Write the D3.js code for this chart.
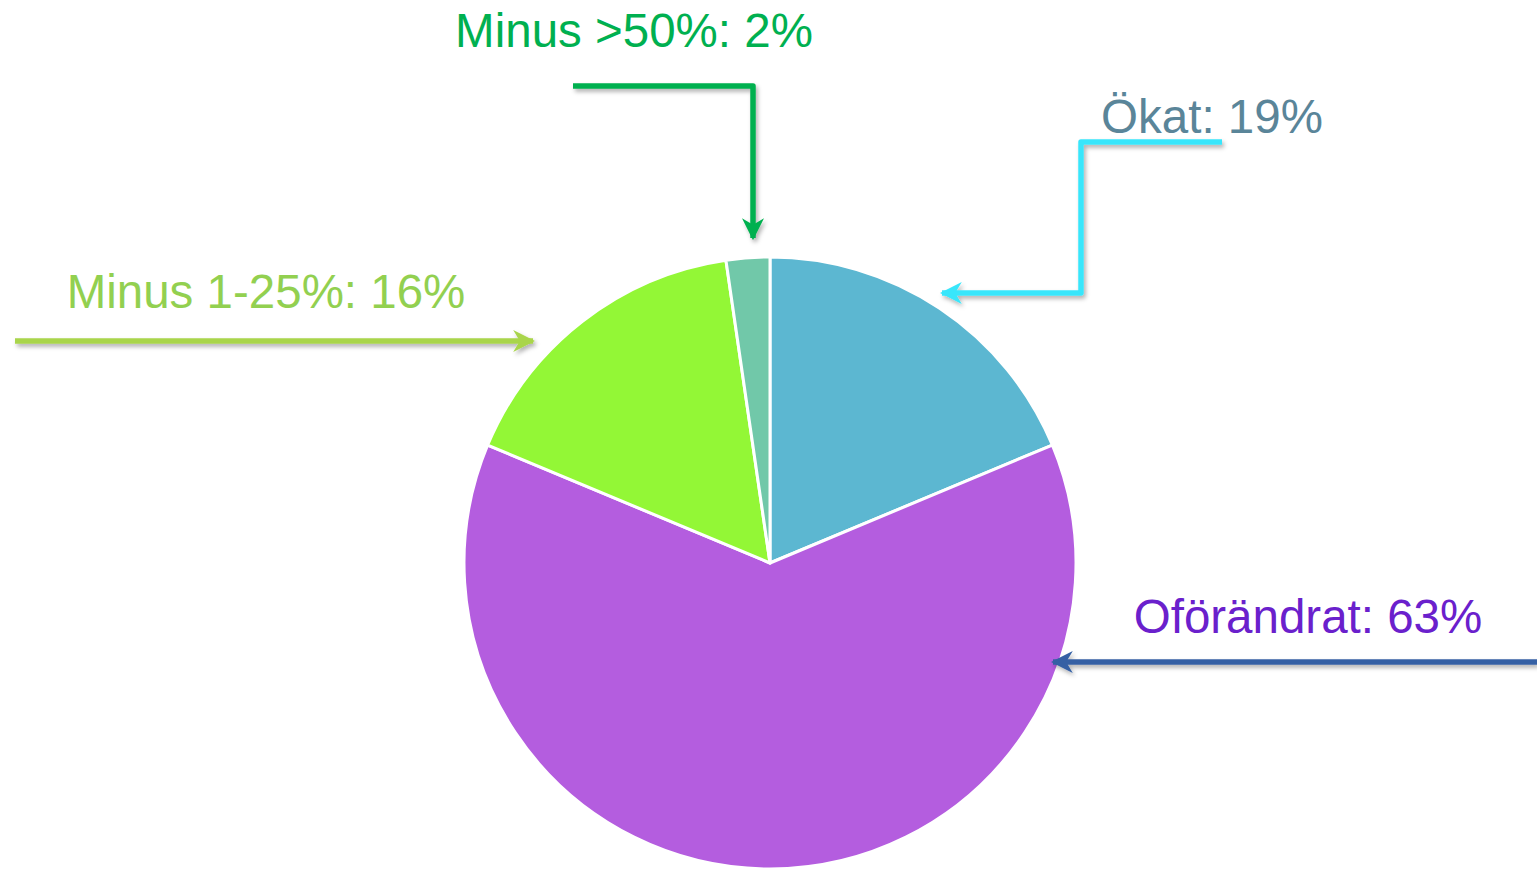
<!DOCTYPE html>
<html>
<head>
<meta charset="utf-8">
<script src="https://cdn.jsdelivr.net/npm/d3@7"></script>
<style>
  body { margin: 0; background: #fff; }
  text { font-family: "Liberation Sans", Arial, sans-serif; }
</style>
</head>
<body>
<div id="chart"></div>
<script>
// data (slice angles), labels rounded
var categories = ['Ökat', 'Oförändrat', 'Minus 1-25%', 'Minus >50%'];
var values = [18.7, 62.6, 16.4, 2.3];
var sliceColors = ['#5cb7d1', '#b45ddf', '#93f736', '#71c8a9'];
var labelColors = ['#5a8599', '#6a20cc', '#92d050', '#00b050'];
var arrowColors = ['#38e6fb', '#3560a4', '#a9d54b', '#00b050'];

var svgWidth = 1537;
var svgHeight = 869;
var cx = 770, cy = 563, radius = 306;

// label anchor + arrow polyline for each category (annotation layout)
var labelPos = [[1212, 133], [1308, 633], [266, 308], [634, 47]];
var arrowPaths = [
  [[1222, 142], [1081, 142], [1081, 293], [942, 293]],
  [[1537, 662], [1053, 662]],
  [[15, 341], [533, 341]],
  [[573, 86], [753, 86], [753, 238]]
];

var svg = d3.select('#chart')
  .append('svg')
  .attr('width', svgWidth)
  .attr('height', svgHeight);

var defs = svg.append('defs');
// userSpaceOnUse so flat (zero-height) lines still get a filter region
defs.append('filter')
  .attr('id', 'shadow')
  .attr('filterUnits', 'userSpaceOnUse')
  .attr('x', 0).attr('y', 0)
  .attr('width', svgWidth).attr('height', svgHeight)
  .append('feDropShadow')
  .attr('dx', 2).attr('dy', 3)
  .attr('stdDeviation', 2)
  .attr('flood-opacity', 0.3);

arrowColors.forEach(function(c, i) {
  defs.append('marker')
    .attr('id', 'head' + i)
    .attr('viewBox', '0 0 10 10')
    .attr('refX', 9).attr('refY', 5)
    .attr('markerWidth', 4).attr('markerHeight', 4)
    .attr('markerUnits', 'strokeWidth')
    .attr('orient', 'auto')
    .append('path')
    .attr('d', 'M0,0 L10,5 L0,10 L3,5 Z')
    .attr('fill', c);
});

var pie = d3.pie().sort(null).value(d => d);
var arc = d3.arc().innerRadius(0).outerRadius(radius);

var pieGroup = svg.append('g')
  .attr('transform', `translate(${cx}, ${cy})`);

pieGroup.selectAll('path')
  .data(pie(values))
  .enter()
  .append('path')
  .attr('d', arc)
  .attr('fill', (d, i) => sliceColors[i])
  .attr('stroke', '#fff')
  .attr('stroke-width', 3)
  .attr('stroke-linejoin', 'round');

var line = d3.line();

svg.selectAll('.arrow')
  .data(arrowPaths)
  .enter()
  .append('path')
  .attr('class', 'arrow')
  .attr('d', d => line(d))
  .attr('fill', 'none')
  .attr('stroke', (d, i) => arrowColors[i])
  .attr('stroke-width', 5.5)
  .attr('stroke-linejoin', 'round')
  .attr('marker-end', (d, i) => `url(#head${i})`)
  .attr('filter', 'url(#shadow)');

svg.selectAll('.label')
  .data(categories)
  .enter()
  .append('text')
  .attr('class', 'label')
  .attr('x', (d, i) => labelPos[i][0])
  .attr('y', (d, i) => labelPos[i][1])
  .attr('text-anchor', 'middle')
  .attr('font-size', '47.5px')
  .attr('fill', (d, i) => labelColors[i])
  .text((d, i) => `${d}: ${Math.round(values[i])}%`);
</script>
</body>
</html>
